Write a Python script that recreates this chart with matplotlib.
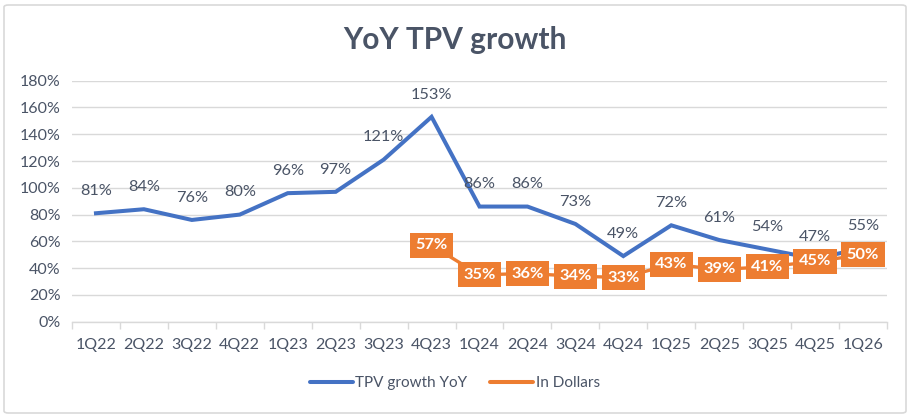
import matplotlib
matplotlib.use("Agg")
import matplotlib.pyplot as plt
from matplotlib.patches import FancyBboxPatch
from matplotlib.lines import Line2D

plt.rcParams['font.family'] = ['Lato', 'DejaVu Sans']

categories = ["1Q22", "2Q22", "3Q22", "4Q22", "1Q23", "2Q23", "3Q23", "4Q23",
              "1Q24", "2Q24", "3Q24", "4Q24", "1Q25", "2Q25", "3Q25", "4Q25", "1Q26"]
tpv_growth = [81, 84, 76, 80, 96, 97, 121, 153, 86, 86, 73, 49, 72, 61, 54, 47, 55]
dollar_categories = ["4Q23", "1Q24", "2Q24", "3Q24", "4Q24", "1Q25", "2Q25", "3Q25", "4Q25", "1Q26"]
in_dollars = [57, 35, 36, 34, 33, 43, 39, 41, 45, 50]
y_ticks = [0, 20, 40, 60, 80, 100, 120, 140, 160, 180]

BLUE = "#4472C4"
ORANGE = "#ED7D31"
TEXT = "#4A5466"
GRID = "#D9D9D9"

fig = plt.figure(figsize=(9.10, 4.16), dpi=100)
ax = fig.add_axes([72/910, 1-321.7/416, (887-72)/910, (321.7-80.7)/416])

x = list(range(len(categories)))
xd = [categories.index(c) for c in dollar_categories]

ax.plot(x, tpv_growth, color=BLUE, lw=2.9, solid_joinstyle='miter', zorder=3,
        label="TPV growth YoY")
ax.plot(xd, in_dollars, color=ORANGE, lw=2.4, zorder=3, label="In Dollars")

for xi, v in zip(x, tpv_growth):
    ax.annotate(f"{v}%", (xi, v), xytext=(0, 16), textcoords="offset points",
                ha="center", va="center", fontsize=11.8, color=TEXT, zorder=4)

for xi, v in zip(xd, in_dollars):
    ax.annotate(f"{v}%", (xi, v), ha="center", va="center", fontsize=11.8,
                color="white", fontweight="bold", zorder=5,
                bbox=dict(boxstyle="square,pad=0.33", fc=ORANGE, ec="none"))

ax.set_xlim(-0.5, len(categories) - 0.5)
ax.set_ylim(0, 180)
ax.set_yticks(y_ticks)
ax.set_yticklabels([f"{t}%" for t in y_ticks])
ax.set_xticks(x)
ax.set_xticklabels(categories)
ax.set_xticks([i - 0.5 for i in range(len(categories) + 1)], minor=True)
ax.tick_params(axis='x', which='major', length=0, pad=12, labelsize=11.5, colors=TEXT)
ax.tick_params(axis='x', which='minor', length=5, width=1, color=GRID)
ax.tick_params(axis='y', length=0, pad=8, labelsize=11.5, colors=TEXT)
ax.grid(axis='y', color=GRID, lw=1)
ax.set_axisbelow(True)
for s in ["top", "right", "left"]:
    ax.spines[s].set_visible(False)
ax.spines["bottom"].set_color(GRID)
ax.spines["bottom"].set_linewidth(1)

fig.text(0.5, 1-40/416, "YoY TPV growth", ha="center", va="center",
         fontsize=21.5, fontweight="bold", color=TEXT)

handles = [Line2D([0], [0], color=BLUE, lw=2.9, solid_capstyle='round'),
           Line2D([0], [0], color=ORANGE, lw=2.9, solid_capstyle='round')]
fig.legend(handles, ["TPV growth YoY", "In Dollars"], loc="center",
           bbox_to_anchor=(0.5, 1-383/416), ncol=2, frameon=False,
           fontsize=11, labelcolor=TEXT, handlelength=2.8, handletextpad=0.15,
           columnspacing=1.5)

border = FancyBboxPatch((4/910, 3/416), 902/910, 408/416,
                        boxstyle="round,pad=0,rounding_size=0.005",
                        transform=fig.transFigure, fc="none", ec=GRID, lw=1.2)
fig.patches.append(border)

fig.savefig("out.png", dpi=100)
